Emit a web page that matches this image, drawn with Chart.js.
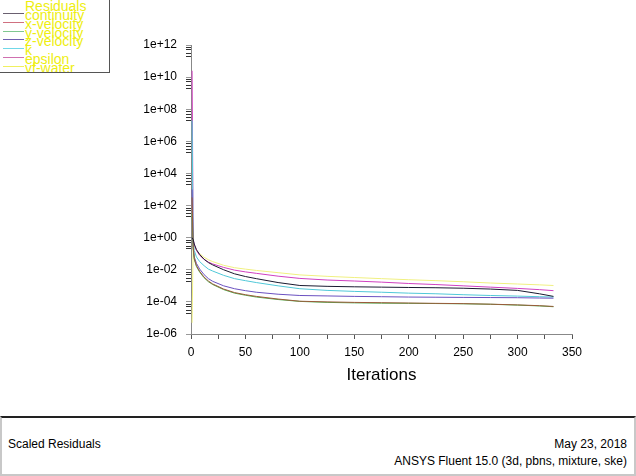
<!DOCTYPE html>
<html>
<head>
<meta charset="utf-8">
<script src="https://cdn.jsdelivr.net/npm/chart.js@4"></script>
<style>
  html, body { margin: 0; padding: 0; background: #fff; }
  body { width: 636px; height: 476px; position: relative; overflow: hidden; font-family: Arial, "Liberation Sans", sans-serif; }
  #wrap { position: absolute; left: 0; top: 0; width: 636px; height: 416px; }
  #legend { position: absolute; left: 0; top: 0; width: 109px; height: 72px; border-right: 1px solid #555; border-bottom: 1px solid #555; background: #fff; overflow: hidden; }
  #legend .tx { position: absolute; left: 25px; font-size: 14px; line-height: 14px; color: #eeee10; white-space: nowrap; }
  #legend .ln { position: absolute; left: 3px; width: 21px; height: 1px; }
  #panel { position: absolute; left: 0; top: 416px; width: 632px; height: 56px; border: 2px solid #c8c8c8; border-top: 2px solid #222; background: #fff; }
  #panel div { position: absolute; font-size: 12px; line-height: 14px; color: #000; white-space: nowrap; }
</style>
</head>
<body>
<div id="wrap"><canvas id="myChart" width="636" height="416"></canvas></div>
<div id="legend"></div>
<div id="panel">
  <div style="left:6px; top:19px;">Scaled Residuals</div>
  <div style="right:7px; top:19px;">May 23, 2018</div>
  <div style="right:7px; top:36px;">ANSYS Fluent 15.0 (3d, pbns, mixture, ske)</div>
</div>
<script>
// residual history
const iterations = [1, 2, 3, 5, 8, 12, 16, 20, 30, 40, 50, 60, 80, 100, 125, 150, 175, 200, 225, 250, 275, 300, 320, 333];

const continuity = [1, 0.76, 0.40, 0.18, 0.089, 0.045, 0.028, 0.020, 0.010, 5.6e-3, 3.8e-3, 2.8e-3, 1.6e-3, 1.05e-3, 9.3e-4, 8.7e-4, 8.3e-4, 7.9e-4, 7.6e-4, 7.1e-4, 6.3e-4, 5.2e-4, 3.2e-4, 2.2e-4];
const xVelocity = [320, 0.25, 0.05, 0.018, 7.9e-3, 3.5e-3, 2.0e-3, 1.3e-3, 6.3e-4, 3.8e-4, 2.8e-4, 2.2e-4, 1.5e-4, 1.1e-4, 1.0e-4, 9.3e-5, 8.9e-5, 8.5e-5, 8.1e-5, 7.8e-5, 7.2e-5, 6.5e-5, 5.8e-5, 5.2e-5];
const yVelocity = [32, 0.2, 0.045, 0.016, 7.1e-3, 3.2e-3, 1.8e-3, 1.2e-3, 5.8e-4, 3.5e-4, 2.6e-4, 2.0e-4, 1.4e-4, 1.07e-4, 9.3e-5, 8.7e-5, 8.3e-5, 8.1e-5, 7.9e-5, 7.6e-5, 7.1e-5, 6.3e-5, 5.6e-5, 5.0e-5];
const zVelocity = [1000, 0.25, 0.063, 0.025, 0.011, 5.0e-3, 2.8e-3, 1.9e-3, 1.0e-3, 6.6e-4, 5.0e-4, 4.0e-4, 3.0e-4, 2.5e-4, 2.35e-4, 2.2e-4, 2.1e-4, 2.0e-4, 1.95e-4, 1.9e-4, 1.86e-4, 1.82e-4, 1.74e-4, 1.7e-4];
const kResid = [2.0e7, 0.5, 0.16, 0.063, 0.032, 0.018, 0.011, 8.3e-3, 4.5e-3, 2.8e-3, 2.1e-3, 1.6e-3, 1.0e-3, 6.6e-4, 5.2e-4, 4.5e-4, 4.0e-4, 3.5e-4, 3.2e-4, 2.8e-4, 2.5e-4, 2.3e-4, 2.1e-4, 2.0e-4];
const epsilon = [2.5e10, 0.79, 0.35, 0.16, 0.079, 0.045, 0.030, 0.023, 0.014, 9.5e-3, 7.4e-3, 6.0e-3, 4.0e-3, 2.9e-3, 2.3e-3, 2.0e-3, 1.7e-3, 1.4e-3, 1.2e-3, 1.0e-3, 8.3e-4, 6.9e-4, 5.8e-4, 5.0e-4];
const vfWater = [5e-6, 0.5, 0.28, 0.16, 0.1, 0.06, 0.042, 0.032, 0.019, 0.0135, 0.011, 9.1e-3, 6.6e-3, 4.8e-3, 3.9e-3, 3.3e-3, 2.8e-3, 2.4e-3, 2.1e-3, 1.8e-3, 1.5e-3, 1.3e-3, 1.15e-3, 1.05e-3];

const seriesNames = ['continuity', 'x-velocity', 'y-velocity', 'z-velocity', 'k', 'epsilon', 'vf-water'];
const seriesColors = ['#1a1a30', '#9a5a3a', '#50b050', '#6a50c0', '#50c8d8', '#d040c0', '#f0f080'];
const legendColors = ['#6a6070', '#d07080', '#80c890', '#7060b0', '#70d8e8', '#d070b0', '#f0f060'];
const seriesValues = [continuity, xVelocity, yVelocity, zVelocity, kResid, epsilon, vfWater];

const yTickValues = [1e12, 1e10, 1e8, 1e6, 1e4, 1e2, 1e0, 1e-2, 1e-4, 1e-6];
const yTickLabels = ['1e+12', '1e+10', '1e+08', '1e+06', '1e+04', '1e+02', '1e+00', '1e-02', '1e-04', '1e-06'];
const xTickLabels = [0, 50, 100, 150, 200, 250, 300, 350];

// legend box, top left
const legend = document.getElementById('legend');
const title = document.createElement('div');
title.className = 'tx';
title.style.top = '-1px';
title.textContent = 'Residuals';
legend.appendChild(title);
seriesNames.forEach((name, i) => {
	const y = 6 + (i + 1) * 8.85;
	const ln = document.createElement('div');
	ln.className = 'ln';
	ln.style.top = Math.round(y - 2) + 'px';
	ln.style.background = legendColors[i];
	legend.appendChild(ln);
	const tx = document.createElement('div');
	tx.className = 'tx';
	tx.style.top = Math.round(y - 7) + 'px';
	tx.textContent = name;
	legend.appendChild(tx);
});

const datasets = seriesNames.map((name, i) => ({
	label: name,
	data: iterations.map((it, j) => ({ x: it, y: seriesValues[i][j] })),
	borderColor: seriesColors[i],
	borderWidth: 1,
	pointRadius: 0,
	tension: 0,
	fill: false
}));

const ctx = document.getElementById('myChart');

new Chart(ctx, {
	type: 'line',
	data: { datasets: datasets },
	options: {
		responsive: false,
		animation: false,
		layout: { padding: { left: 0, right: 64, top: 45, bottom: 28 } },
		plugins: { legend: { display: false }, tooltip: { enabled: false } },
		scales: {
			x: {
				type: 'linear',
				min: 0,
				max: 350,
				afterBuildTicks: scale => {
					const t = [];
					for (let v = 0; v <= 350; v += 25) t.push({ value: v });
					scale.ticks = t;
				},
				ticks: {
					autoSkip: false,
					maxRotation: 0,
					padding: 6,
					color: '#000',
					font: { family: 'Arial, "Liberation Sans"', size: 12 },
					callback: v => xTickLabels.includes(v) ? String(v) : ''
				},
				grid: { drawOnChartArea: false, tickLength: 5, color: '#555' },
				border: { color: '#888' },
				title: {
					display: true,
					text: 'Iterations',
					color: '#000',
					font: { family: 'Arial, "Liberation Sans"', size: 17 },
					padding: { top: 0, bottom: 2 }
				},
				afterFit: scale => { scale.height = 54; }
			},
			y: {
				type: 'logarithmic',
				min: 1e-6,
				max: 1e12,
				afterBuildTicks: scale => {
					const t = [];
					yTickValues.forEach(v => {
						t.push({ value: v });
						[2, 3, 5, 7].forEach(k => {
							const m = k * v / 10;
							if (m >= 1e-6) t.push({ value: m });
						});
					});
					scale.ticks = t;
				},
				ticks: {
					autoSkip: false,
					padding: 9,
					color: '#000',
					font: { family: 'Arial, "Liberation Sans"', size: 12 },
					callback: v => {
						const i = yTickValues.findIndex(tv => Math.abs(tv / v - 1) < 1e-6);
						return i >= 0 ? yTickLabels[i] : '';
					}
				},
				grid: {
					drawOnChartArea: false,
					tickLength: 5,
					color: c => (c.tick && yTickValues.some(tv => Math.abs(tv / c.tick.value - 1) < 1e-6)) ? '#999' : '#333'
				},
				border: { color: '#888' },
				afterFit: scale => { scale.width = 191; }
			}
		}
	}
});
</script>
</body>
</html>
